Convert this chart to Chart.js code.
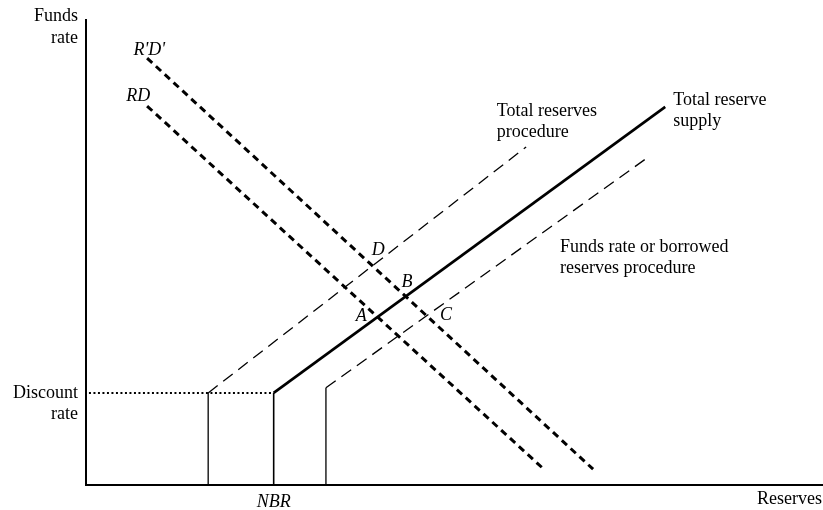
<!DOCTYPE html>
<html>
<head>
<meta charset="utf-8">
<title>Reserves market and operating procedures</title>
<script src="https://cdn.jsdelivr.net/npm/chart.js@4.4.1/dist/chart.umd.min.js"></script>
<style>
  html, body { margin: 0; padding: 0; background: #fff; }
  #wrap { position: relative; width: 823px; height: 510px; }
</style>
</head>
<body>
<div id="wrap"><canvas id="reservesChart"></canvas></div>
<script>
// Values, both axes in 0-100 units
const discountRate = 19.8
const nbr = 25.5

const discountX = [0.4, 25.5]
const discountY = [19.8, 19.8]

const totalProcX = [16.6, 16.6, 59.8]
const totalProcY = [0, 19.8, 72.7]

const supplyX = [25.5, 25.5, 78.7]
const supplyY = [0, 19.8, 81.3]

const fundsProcX = [32.6, 32.6, 76.2]
const fundsProcY = [0, 20.9, 70.3]

const demandX = [8.3, 62.0]
const demandY = [81.5, 3.7]

const demandShiftX = [8.3, 68.9]
const demandShiftY = [91.8, 3.4]

const yTickValues = [discountRate]
const yTickLabels = [['Discount', 'rate']]
const xTickValues = [nbr]
const xTickLabels = ['NBR']

const serif = '"Liberation Serif", "Times New Roman", serif'

// text placed in the plot, anchored in data units
const notes = [
  { text: ["R'D'"], x: 8.6, y: 93.5, align: 'center', italic: true },
  { text: ['RD'], x: 7.1, y: 83.7, align: 'center', italic: true },
  { text: ['D'], x: 39.7, y: 50.5, align: 'center', italic: true },
  { text: ['B'], x: 43.6, y: 43.7, align: 'center', italic: true },
  { text: ['A'], x: 37.4, y: 36.3, align: 'center', italic: true },
  { text: ['C'], x: 48.9, y: 36.6, align: 'center', italic: true },
  { text: ['Total reserves', 'procedure'], x: 55.8, y: 80.4, align: 'left' },
  { text: ['Total reserve', 'supply'], x: 79.8, y: 82.8, align: 'left' },
  { text: ['Funds rate or borrowed', 'reserves procedure'], x: 64.4, y: 51.2, align: 'left' }
]

const toPoints = (xs, ys) => xs.map((x, i) => ({ x, y: ys[i] }))

const figureText = {
  id: 'figureText',
  afterDatasetsDraw (chart) {
    const { ctx, chartArea, scales } = chart
    ctx.save()
    ctx.fillStyle = '#000'
    ctx.textBaseline = 'middle'
    notes.forEach(note => {
      ctx.font = `${note.italic ? 'italic ' : ''}18px ${serif}`
      ctx.textAlign = note.align
      const px = scales.x.getPixelForValue(note.x)
      const py = scales.y.getPixelForValue(note.y)
      note.text.forEach((line, i) => ctx.fillText(line, px, py + i * 21))
    })
    // name of the vertical axis, above its top end
    ctx.font = `18px ${serif}`
    ctx.textAlign = 'right'
    ctx.fillText('Funds', chartArea.left - 8, chartArea.top - 4)
    ctx.fillText('rate', chartArea.left - 8, chartArea.top + 18)
    ctx.restore()
  }
}

const ctx = document.getElementById('reservesChart').getContext('2d')

new Chart(ctx, {
  type: 'line',
  data: {
    datasets: [
      {
        label: 'Discount rate',
        data: toPoints(discountX, discountY),
        borderWidth: 2,
        borderDash: [2, 2.5]
      },
      {
        label: 'Total reserves procedure',
        data: toPoints(totalProcX, totalProcY),
        borderWidth: 1.3,
        segment: {
          borderDash: c => c.p0DataIndex === 0 ? [] : [12, 7]
        }
      },
      {
        label: 'Total reserve supply',
        data: toPoints(supplyX, supplyY),
        borderWidth: 2.7,
        segment: {
          borderWidth: c => c.p0DataIndex === 0 ? 1.6 : 2.7
        }
      },
      {
        label: 'Funds rate or borrowed reserves procedure',
        data: toPoints(fundsProcX, fundsProcY),
        borderWidth: 1.3,
        segment: {
          borderDash: c => c.p0DataIndex === 0 ? [] : [12, 7]
        }
      },
      {
        label: 'RD',
        data: toPoints(demandX, demandY),
        borderWidth: 3,
        borderDash: [7, 5]
      },
      {
        label: "R'D'",
        data: toPoints(demandShiftX, demandShiftY),
        borderWidth: 3,
        borderDash: [7, 5]
      }
    ]
  },
  options: {
    responsive: true,
    maintainAspectRatio: false,
    animation: false,
    events: [],
    layout: {
      padding: { top: 20, right: 1, left: 0, bottom: 0 }
    },
    elements: {
      point: { radius: 0, hoverRadius: 0 },
      line: { tension: 0, borderColor: '#000', fill: false, borderCapStyle: 'butt' }
    },
    plugins: {
      legend: { display: false },
      tooltip: { enabled: false }
    },
    scales: {
      x: {
        type: 'linear',
        min: 0,
        max: 100,
        grid: { display: false, drawTicks: false },
        border: { display: true, color: '#000', width: 2 },
        afterBuildTicks: s => { s.ticks = xTickValues.map(v => ({ value: v })) },
        afterFit: s => {
          s.height = 25
          s.paddingLeft = 0
          s.paddingRight = 0
        },
        ticks: {
          color: '#000',
          padding: 6,
          maxRotation: 0,
          autoSkip: false,
          font: { family: serif, size: 18, style: 'italic' },
          callback: (v, i) => xTickLabels[i]
        },
        title: {
          display: true,
          text: 'Reserves',
          align: 'end',
          color: '#000',
          padding: 0,
          font: { family: serif, size: 18 }
        }
      },
      y: {
        type: 'linear',
        min: 0,
        max: 100,
        grid: { display: false, drawTicks: false },
        border: { display: true, color: '#000', width: 2 },
        afterBuildTicks: s => { s.ticks = yTickValues.map(v => ({ value: v })) },
        afterFit: s => {
          s.width = 86
          s.paddingTop = 0
          s.paddingBottom = 0
        },
        ticks: {
          color: '#000',
          padding: 8,
          labelOffset: 11,
          autoSkip: false,
          font: { family: serif, size: 18, lineHeight: 1.2 },
          callback: (v, i) => yTickLabels[i]
        }
      }
    }
  },
  plugins: [figureText]
})
</script>
</body>
</html>
